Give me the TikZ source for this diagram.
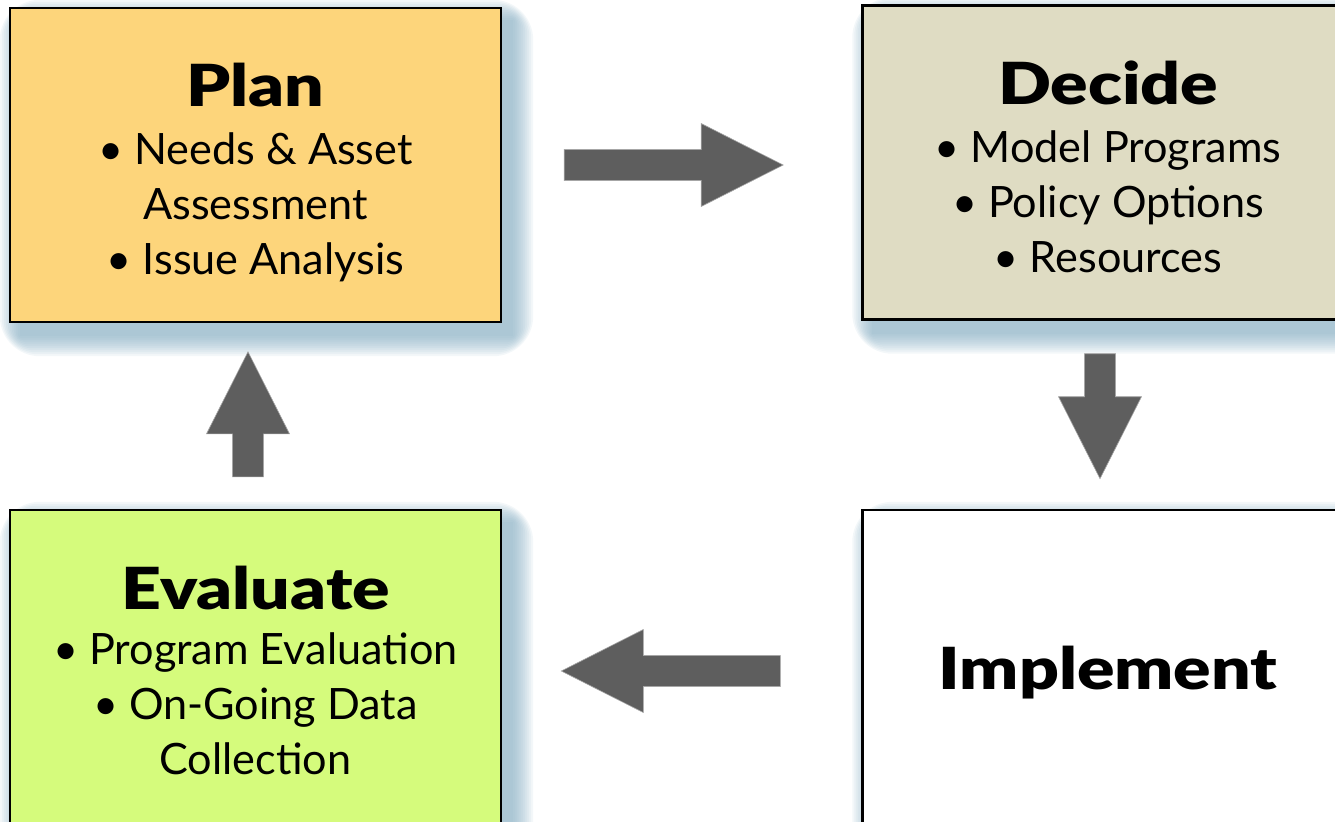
\documentclass[tikz,border=0pt]{standalone}
\usepackage{fontspec}
\usepackage{graphicx}
\setmainfont{Lato}[BoldFont={Lato Black}]
\usetikzlibrary{calc,backgrounds}

\definecolor{planfill}{HTML}{FDD57B}
\definecolor{decidefill}{HTML}{DFDCC3}
\definecolor{evalfill}{HTML}{D5FB7C}
\definecolor{arrowgray}{HTML}{5E5E5E}
\definecolor{shadowblue}{HTML}{7EA8BE}

\newcommand\stagetitle[1]{{\fontsize{29}{30}\selectfont\bfseries\scalebox{1.2}[1]{#1}}}

% block arrow: tail point, angle, total length
\newcommand\blockarrow[3]{%
  \begin{scope}[shift={#1}, rotate=#2]
    \filldraw[fill=arrowgray, draw=gray!70, line width=0.3pt]
      (0,-15.5) -- ({#3-82},-15.5) -- ({#3-82},-41.5) -- (#3,0)
      -- ({#3-82},41.5) -- ({#3-82},15.5) -- (0,15.5) -- cycle;
  \end{scope}}

\tikzset{
  stagebox/.style={draw=black, line width=1.2pt, inner sep=0pt,
    minimum width=245.5pt, minimum height=157pt},
  stagetext/.style={align=center, inner sep=0pt,
    font=\fontsize{21.6}{27.5}\selectfont}
}

\begin{document}
\begin{tikzpicture}[x=0.5pt, y=-0.5pt]
\useasboundingbox (0,0) rectangle (1335,821);

% the four stages
\node[stagebox, fill=planfill] (plan) at (255.5,165) {};
\node[stagebox, fill=decidefill] (decide) at (1108,162.5) {};
\node[stagebox, fill=evalfill] (evaluate) at (255.5,667) {};
\node[stagebox, fill=white] (implement) at (1108,667) {};

\node[stagetext] (plantext) at ($(plan.center)+(0,7)$)
  {\stagetitle{Plan}\\[1.5pt]
   • Needs \& Asset\\ Assessment\\ • Issue Analysis};
\node[stagetext] (decidetext) at ($(decide.center)+(0,4)$)
  {\stagetitle{Decide}\\[1.5pt]
   • Model Programs\\ • Policy Options\\ • Resources};
\node[stagetext] (evaluatetext) at ($(evaluate.center)+(0,3)$)
  {\stagetitle{Evaluate}\\
   • Program Evaluation\\ • On-Going Data\\ Collection};
\node[stagetext] (implementtext) at ($(implement.center)+(0,6)$)
  {\stagetitle{Implement}};

% soft blue shadows
\begin{scope}[on background layer]
  \foreach \n in {plan,decide,evaluate,implement}
    \foreach \e [evaluate=\e as \rc using \e/2] in {0,2,...,20}
      \fill[shadowblue, opacity=0.09, rounded corners=\rc pt]
        ($(\n.south west)+(11-\e,13+\e)$) rectangle ($(\n.north east)+(11+\e,13-\e)$);
\end{scope}

% arrows round the cycle
\blockarrow{($(plan.east)+(62,0)$)}{0}{219}
\blockarrow{($(decide.south)+(-8,33)$)}{-90}{125}
\blockarrow{($(implement.west)+(-81,4)$)}{180}{219}
\blockarrow{($(evaluate.north)+(-7.5,-32)$)}{90}{125}

\end{tikzpicture}
\end{document}
